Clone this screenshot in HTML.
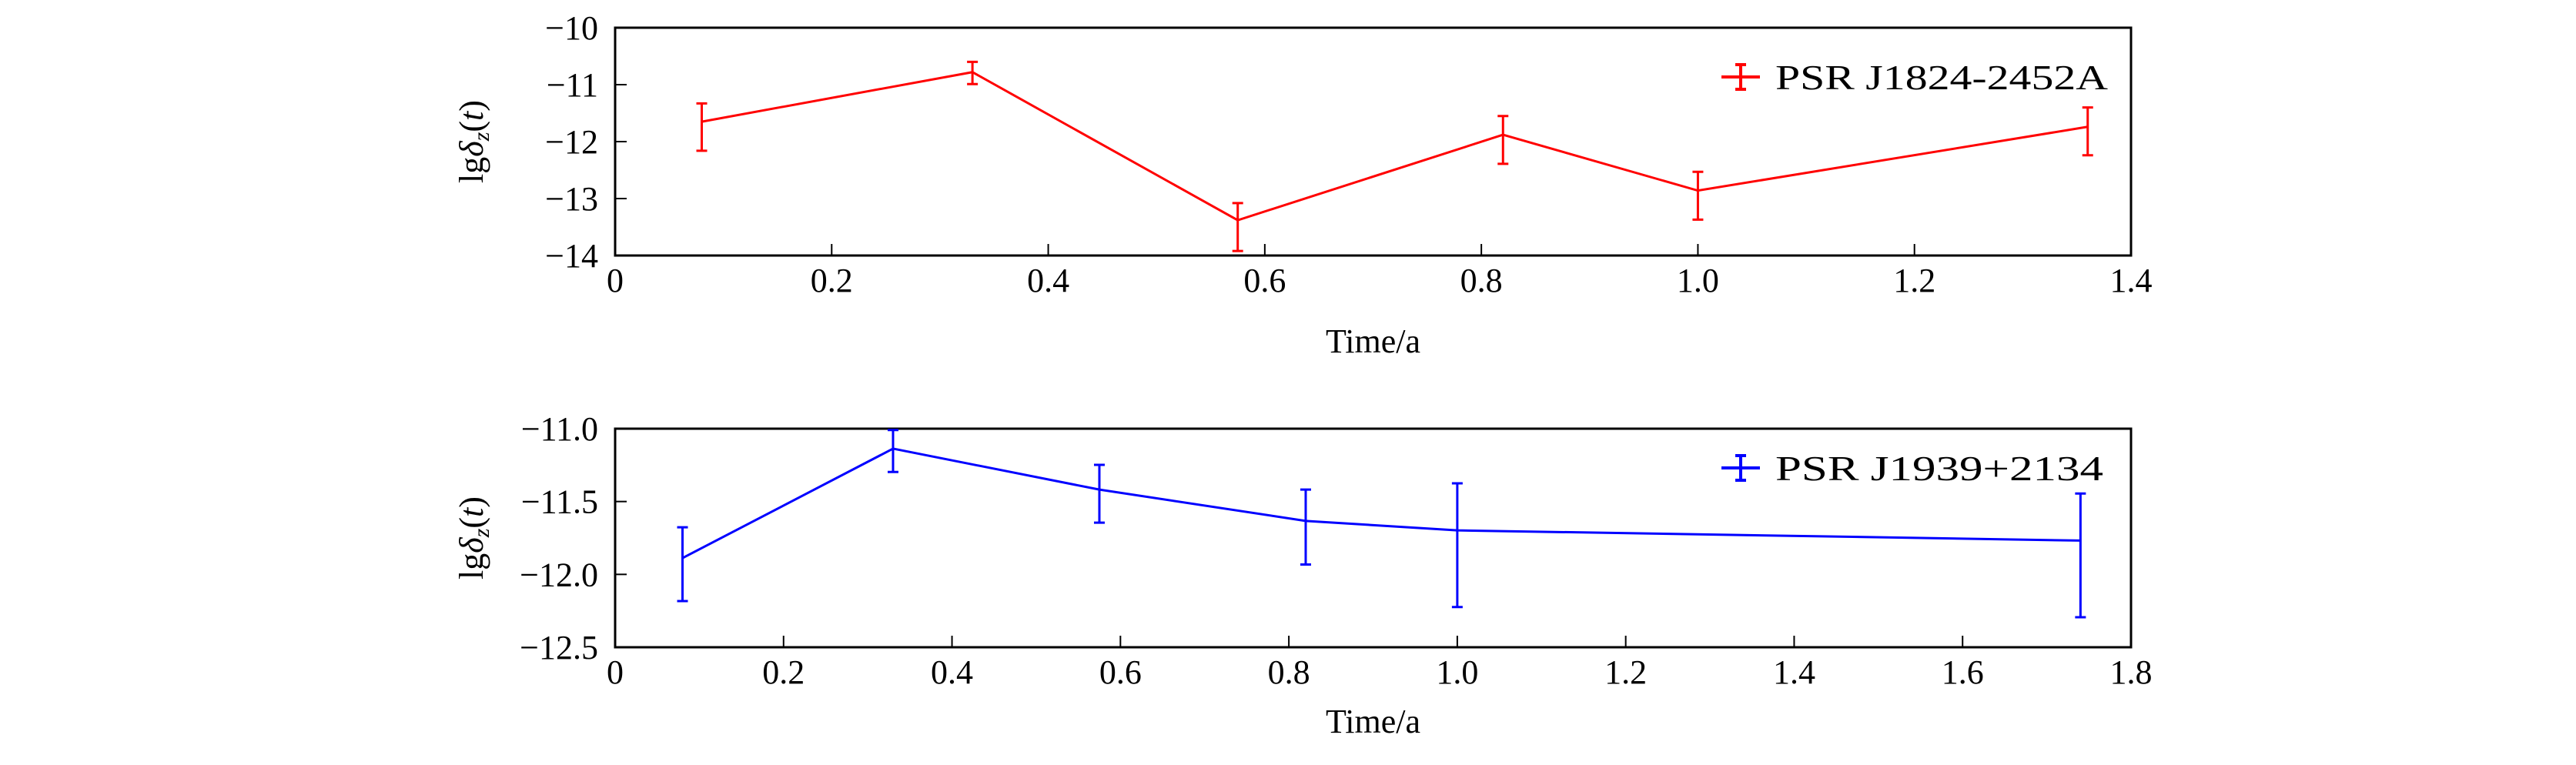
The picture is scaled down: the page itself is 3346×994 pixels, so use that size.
<!DOCTYPE html>
<html><head><meta charset="utf-8"><style>
html,body{margin:0;padding:0;background:#fff;}
svg{display:block;}
text{font-family:"Liberation Serif","DejaVu Serif",serif;fill:#000;}
</style></head><body>
<svg id="chart" width="3346" height="994" viewBox="0 0 3346 994" xmlns="http://www.w3.org/2000/svg"></svg>
<script>
// Panel 1 data: PSR J1824-2452A
const timesA = [0.08, 0.33, 0.575, 0.82, 1.0, 1.36];
const valuesA = [-11.65, -10.78, -13.38, -11.88, -12.86, -11.74];
const errUpA = [-11.33, -10.60, -13.08, -11.55, -12.53, -11.40];
const errLoA = [-12.16, -10.99, -13.92, -12.39, -13.37, -12.24];
const xTicksA = [0, 0.2, 0.4, 0.6, 0.8, 1.0, 1.2, 1.4];
const xTickLabelsA = ["0", "0.2", "0.4", "0.6", "0.8", "1.0", "1.2", "1.4"];
const yTicksA = [-10, -11, -12, -13, -14];
const yTickLabelsA = ["\u221210", "\u221211", "\u221212", "\u221213", "\u221214"];
// Panel 2 data: PSR J1939+2134
const timesB = [0.08, 0.33, 0.575, 0.82, 1.0, 1.74];
const valuesB = [-11.888, -11.137, -11.418, -11.633, -11.698, -11.768];
const errUpB = [-11.677, -11.009, -11.248, -11.418, -11.375, -11.445];
const errLoB = [-12.183, -11.297, -11.645, -11.932, -12.224, -12.294];
const xTicksB = [0, 0.2, 0.4, 0.6, 0.8, 1.0, 1.2, 1.4, 1.6, 1.8];
const xTickLabelsB = ["0", "0.2", "0.4", "0.6", "0.8", "1.0", "1.2", "1.4", "1.6", "1.8"];
const yTicksB = [-11.0, -11.5, -12.0, -12.5];
const yTickLabelsB = ["\u221211.0", "\u221211.5", "\u221212.0", "\u221212.5"];

const NS = "http://www.w3.org/2000/svg";
const svg = document.getElementById("chart");
function mk(tag, attrs, parent) {
  const e = document.createElementNS(NS, tag);
  for (const k in attrs) e.setAttribute(k, attrs[k]);
  (parent || svg).appendChild(e);
  return e;
}

function panel(cfg) {
  const g = mk("g", {});
  
  
  const L = 799, R = 2768, T = cfg.top, B = cfg.bottom;
  const xs = v => L + (v - cfg.xmin) / (cfg.xmax - cfg.xmin) * (R - L);
  const ys = v => T + (cfg.ymax - v) / (cfg.ymax - cfg.ymin) * (B - T);
  // ticks
  cfg.xTicks.forEach((t, i) => {
    const x = xs(t);
    if (i > 0 && i < cfg.xTicks.length - 1) {
      const tk = mk("line", {x1: x, x2: x, y1: B, y2: B - 15, stroke: "#000", "stroke-width": 2}, g);
      
      
    }
    const lb = mk("text", {x: x, y: B + 47, "font-size": 44, "text-anchor": "middle"}, g);
    lb.textContent = cfg.xTickLabels[i];
    
    
  });
  cfg.yTicks.forEach((t, i) => {
    const y = ys(t);
    if (i > 0 && i < cfg.yTicks.length - 1) {
      const tk = mk("line", {x1: L, x2: L + 15, y1: y, y2: y, stroke: "#000", "stroke-width": 2}, g);
      
      
    }
    const lb = mk("text", {x: 777, y: y + 15, "font-size": 44, "text-anchor": "end"}, g);
    lb.textContent = cfg.yTickLabels[i];
    
    
  });
  // frame
  const fr = mk("rect", {x: L, y: T, width: R - L, height: B - T, fill: "none", stroke: "#000", "stroke-width": 3}, g);
  
  
  // line
  const pts = cfg.times.map((t, i) => xs(t) + "," + ys(cfg.values[i])).join(" ");
  const pl = mk("polyline", {points: pts, fill: "none", stroke: cfg.color, "stroke-width": 3}, g);
  
  
  // error bars
  cfg.times.forEach((t, i) => {
    const x = xs(t), y1 = ys(cfg.errUp[i]), y2 = ys(cfg.errLo[i]);
    const eb = mk("path", {d: `M${x},${y1}V${y2}M${x-7},${y1}H${x+7}M${x-7},${y2}H${x+7}`, fill: "none", stroke: cfg.color, "stroke-width": 3}, g);
    
    
  });
  // legend
  const ly = cfg.legendY;
  const ls = mk("path", {d: `M2236,${ly}H2286M2261,${ly-16}V${ly+16}M2254,${ly-16}H2268M2254,${ly+16}H2268`, fill: "none", stroke: cfg.color, "stroke-width": 4}, g);
  
  
  const lt = mk("text", {x: 2306, y: ly + 16, "font-size": 46, textLength: cfg.legendLen, lengthAdjust: "spacingAndGlyphs"}, g);
  lt.textContent = cfg.legend;
  
  
  // axis titles
  const xt = mk("text", {x: (L + R) / 2, y: cfg.xTitleY, "font-size": 44, "text-anchor": "middle"}, g);
  xt.textContent = "Time/a";
  
  
  const cy = (T + B) / 2;
  const yt = mk("text", {x: 0, y: 0, "font-size": 44, "text-anchor": "middle", transform: `translate(627,${cy}) rotate(-90)`}, g);
  yt.innerHTML = 'lg<tspan font-style="italic">δ</tspan><tspan font-style="italic" font-size="30" dy="8">z</tspan><tspan dy="-8">(</tspan><tspan font-style="italic">t</tspan>)';
  
  
}

panel({name: "panel-j1824", top: 36, bottom: 332, xmin: 0, xmax: 1.4, ymin: -14, ymax: -10,
  times: timesA, values: valuesA, errUp: errUpA, errLo: errLoA, color: "#ff0000",
  xTicks: xTicksA, xTickLabels: xTickLabelsA, yTicks: yTicksA, yTickLabels: yTickLabelsA,
  legend: "PSR J1824-2452A", legendY: 100, legendLen: 432, xTitleY: 458});
panel({name: "panel-j1939", top: 557, bottom: 841, xmin: 0, xmax: 1.8, ymin: -12.5, ymax: -11.0,
  times: timesB, values: valuesB, errUp: errUpB, errLo: errLoB, color: "#0000ff",
  xTicks: xTicksB, xTickLabels: xTickLabelsB, yTicks: yTicksB, yTickLabels: yTickLabelsB,
  legend: "PSR J1939+2134", legendY: 608, legendLen: 426, xTitleY: 952});
</script>
</body></html>
